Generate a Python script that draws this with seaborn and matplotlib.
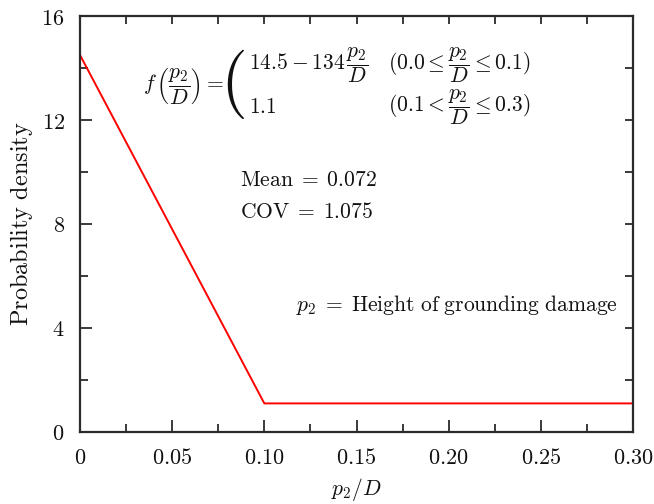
import matplotlib
matplotlib.use("Agg")
import matplotlib.pyplot as plt
import seaborn as sns
import pandas as pd
from matplotlib.ticker import FixedLocator, FixedFormatter, MultipleLocator, NullFormatter
from matplotlib.transforms import Bbox

# ---- data ----
x_vals = [0.0, 0.10, 0.30]
density = [14.5, 1.1, 1.1]
xtick_vals = [0.0, 0.05, 0.10, 0.15, 0.20, 0.25, 0.30]
xtick_labels = ["0", "0.05", "0.10", "0.15", "0.20", "0.25", "0.30"]
ytick_vals = [0, 4, 8, 12, 16]
ytick_labels = ["0", "4", "8", "12", "16"]

sns.set_theme(style="white")
plt.rcParams["mathtext.fontset"] = "cm"
plt.rcParams["font.family"] = ["DejaVu Serif"]

df = pd.DataFrame({"x": x_vals, "y": density})

fig = plt.figure(figsize=(6.54, 5.04), dpi=100)
ax = fig.add_axes([80/654, 72/504, 553/654, 416/504])
sns.lineplot(data=df, x="x", y="y", ax=ax, color="#ff0000", linewidth=1.4)

ax.set_xlim(0, 0.30)
ax.set_ylim(0, 16)
axcol = "#2b2b2b"
for s in ax.spines.values():
    s.set_color(axcol)
    s.set_linewidth(1.6)

ax.xaxis.set_major_locator(FixedLocator(xtick_vals))
ax.xaxis.set_major_formatter(FixedFormatter(["$%s$" % t for t in xtick_labels]))
ax.yaxis.set_major_locator(FixedLocator(ytick_vals))
ax.yaxis.set_major_formatter(FixedFormatter(["$%s$" % t for t in ytick_labels]))
ax.xaxis.set_minor_locator(MultipleLocator(0.025))
ax.yaxis.set_minor_locator(MultipleLocator(2))
ax.tick_params(which="major", direction="in", length=8.5, width=1.3, color=axcol,
               labelsize=16, pad=11, labelcolor="#111111",
               bottom=True, left=True, top=False, right=False)
ax.tick_params(which="minor", direction="in", length=5.5, width=1.3, color=axcol,
               bottom=True, left=True, top=False, right=False)

secx = ax.secondary_xaxis("top")
secx.xaxis.set_major_locator(FixedLocator(xtick_vals))
secx.xaxis.set_minor_locator(MultipleLocator(0.025))
secx.xaxis.set_major_formatter(NullFormatter())
secx.tick_params(which="both", direction="in", length=5.5, width=1.3, color=axcol)
secx.spines["top"].set_visible(False)
secy = ax.secondary_yaxis("right")
secy.yaxis.set_major_locator(FixedLocator(ytick_vals))
secy.yaxis.set_minor_locator(MultipleLocator(2))
secy.yaxis.set_major_formatter(NullFormatter())
secy.tick_params(which="both", direction="in", length=5.5, width=1.3, color=axcol)
secy.spines["right"].set_visible(False)

ax.set_xlabel(r"$p_2/D$", fontsize=15.5, labelpad=5, color="#111111")
ax.set_ylabel(r"$\mathrm{Probability\ density}$", fontsize=17.5, labelpad=5, color="#111111")

fs = 15.5
tc = "#111111"
ax.text(0.0342, 13.3, r"$f\,\left(\dfrac{p_2}{D}\right) =$", fontsize=fs, va="center", ha="left", color=tc)

# brace: auto-sized delimiter; the sizing content is pushed right and clipped away
rows = r"\substack{\dfrac{p_2}{D}\\\dfrac{p_2}{D}}"
gap = r"\hspace{2}"
brace = ax.text(0.0825, 13.42, r"$\left\{" + gap + rows + r"\right.$", fontsize=fs,
                va="center", ha="left", color=tc)
probe1 = ax.text(0.0825, 13.42, "$" + gap + rows + "$", fontsize=fs, va="center", ha="left")
probe2 = ax.text(0.0825, 13.42, "$" + rows + "$", fontsize=fs, va="center", ha="left")
fig.canvas.draw()
bb = brace.get_window_extent()
w1 = probe1.get_window_extent().width
w2 = probe2.get_window_extent().width
probe1.remove()
probe2.remove()
bw = bb.width - w1          # width of the brace glyph
gap_px = w1 - w2            # width of the blank kern
target_right = ax.transData.transform((0.0908, 0))[0]
new_x0 = target_right - bw
y_disp = ax.transData.transform((0, 13.42))[1]
nx, ny = ax.transData.inverted().transform((new_x0, y_disp))
brace.set_position((nx, ny))
brace.set_clip_box(Bbox.from_extents(new_x0 - 3, bb.y0 - 3, new_x0 + bw + 0.7 * gap_px, bb.y1 + 3))
brace.set_clip_on(True)

ax.text(0.0915, 14.12, r"$14.5 - 134\,\dfrac{p_2}{D}$", fontsize=fs, va="center", ha="left", color=tc)
ax.text(0.0915, 12.5, r"$1.1$", fontsize=fs, va="center", ha="left", color=tc)
ax.text(0.1671, 14.12, r"$(0.0 \leq \dfrac{p_2}{D} \leq 0.1)$", fontsize=fs, va="center", ha="left", color=tc)
ax.text(0.1671, 12.5, r"$(0.1 < \dfrac{p_2}{D} \leq 0.3)$", fontsize=fs, va="center", ha="left", color=tc)
ax.text(0.0868, 9.69, r"$\mathrm{Mean}\;=\;0.072$", fontsize=fs, va="center", ha="left", color=tc)
ax.text(0.0868, 8.46, r"$\mathrm{COV}\;=\;1.075$", fontsize=fs, va="center", ha="left", color=tc)
ax.text(0.1172, 4.88, r"$p_2\;=\;\mathrm{Height\ of\ grounding\ damage}$", fontsize=fs,
        va="center", ha="left", color=tc)

fig.savefig("out.png", dpi=100)
